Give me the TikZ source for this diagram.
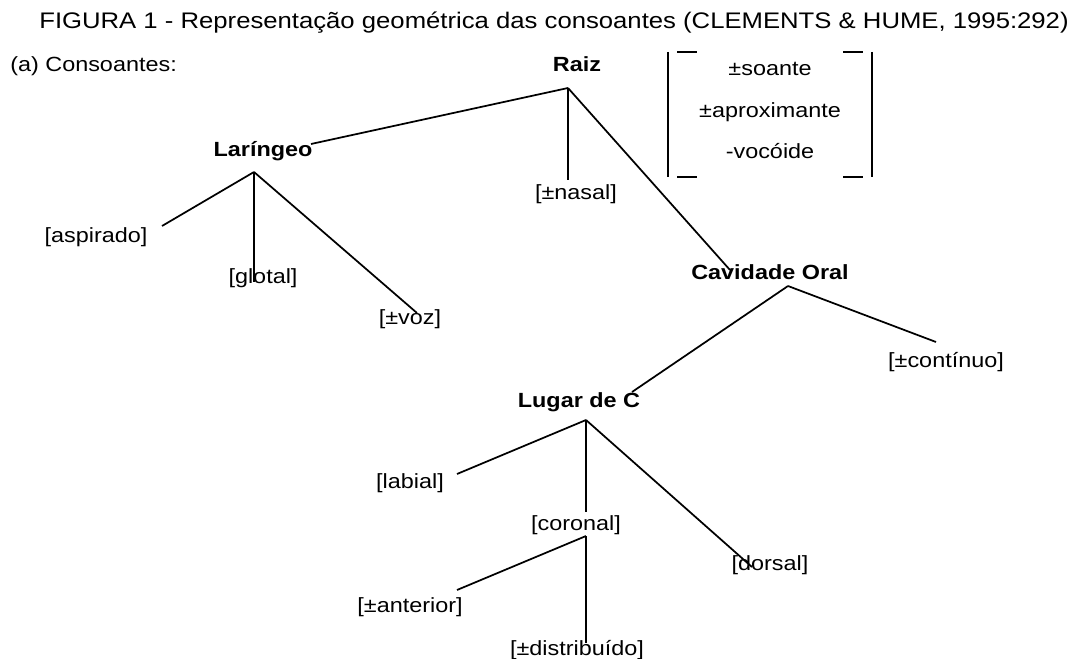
\documentclass[tikz,border=0pt]{standalone}
\usepackage{fontspec}
\setmainfont{Liberation Sans}[FakeStretch=1.14]
\begin{document}
\begin{tikzpicture}[x=0.75pt,y=-0.75pt,
  lbl/.style={font=\fontsize{15.4}{18}\selectfont, inner sep=0pt, anchor=base},
  head/.style={font=\fontsize{15.4}{18}\selectfont\bfseries, inner sep=0pt, anchor=base},
  titlef/.style={font=\fontsize{16.9}{20}\selectfont, inner sep=0pt, anchor=base},
  branch/.style={line width=1.3pt},
  brk/.style={line width=1.5pt}]
\useasboundingbox (0,0) rectangle (1074,659);

% title
\node[titlef] (title) at (554,29) {FIGURA 1 - Representação geométrica das consoantes (CLEMENTS \& HUME, 1995:292)};
\node[lbl, anchor=base west] (sub) at (10,72) {(a) Consoantes:};

% nodes
\node[head] (raiz) at (577,72) {Raiz};
\node[head] (lar) at (263,157) {Laríngeo};
\node[lbl] (asp) at (96,243) {[aspirado]};
\node[lbl] (glo) at (263,283) {[glotal]};
\node[lbl] (voz) at (410,325) {[±voz]};
\node[lbl] (nas) at (576,200) {[±nasal]};
\node[head] (cav) at (770,280) {Cavidade Oral};
\node[lbl] (cont) at (946,367) {[±contínuo]};
\node[head] (lug) at (579,407) {Lugar de C};
\node[lbl] (lab) at (410,488) {[labial]};
\node[lbl] (cor) at (576,530) {[coronal]};
\node[lbl] (dor) at (770,570) {[dorsal]};
\node[lbl] (ant) at (410,612) {[±anterior]};
\node[lbl] (dis) at (577,655) {[±distribuído]};

% matrix
\node[lbl] (m1) at (770,76) {±soante};
\node[lbl] (m2) at (770,118) {±aproximante};
\node[lbl] (m3) at (770,159) {-vocóide};
\draw[brk] (668,52) -- (668,177);
\draw[brk] (872,52) -- (872,177);
\draw[brk] (677,52) -- (697,52);
\draw[brk] (843,52) -- (863,52);
\draw[brk] (677,177) -- (697,177);
\draw[brk] (843,177) -- (863,177);

% coordinates
\coordinate (raizA) at (568,88);
\coordinate (larE) at (311,144);
\coordinate (nasE) at (568,180);
\coordinate (cavE) at (730,270);
\coordinate (larA) at (254,172);
\coordinate (aspE) at (162,226);
\coordinate (gloE) at (254,282);
\coordinate (vozE) at (417,313);
\coordinate (cavA) at (788,286);
\coordinate (lugE) at (632,392);
\coordinate (contE) at (936,342);
\coordinate (lugA) at (586,420);
\coordinate (labE) at (457,474);
\coordinate (corE) at (586,512);
\coordinate (dorE) at (752,567);
\coordinate (corA) at (586,536);
\coordinate (antE) at (457,590);
\coordinate (disE) at (586,643);

% connectors
\draw[branch] (raizA) -- (larE);
\draw[branch] (raizA) -- (nasE);
\draw[branch] (raizA) -- (cavE);
\draw[branch] (larA) -- (aspE);
\draw[branch] (larA) -- (gloE);
\draw[branch] (larA) -- (vozE);
\draw[branch] (cavA) -- (lugE);
\draw[branch] (cavA) -- (contE);
\draw[branch] (lugA) -- (labE);
\draw[branch] (lugA) -- (corE);
\draw[branch] (lugA) -- (dorE);
\draw[branch] (corA) -- (antE);
\draw[branch] (corA) -- (disE);
\end{tikzpicture}
\end{document}
